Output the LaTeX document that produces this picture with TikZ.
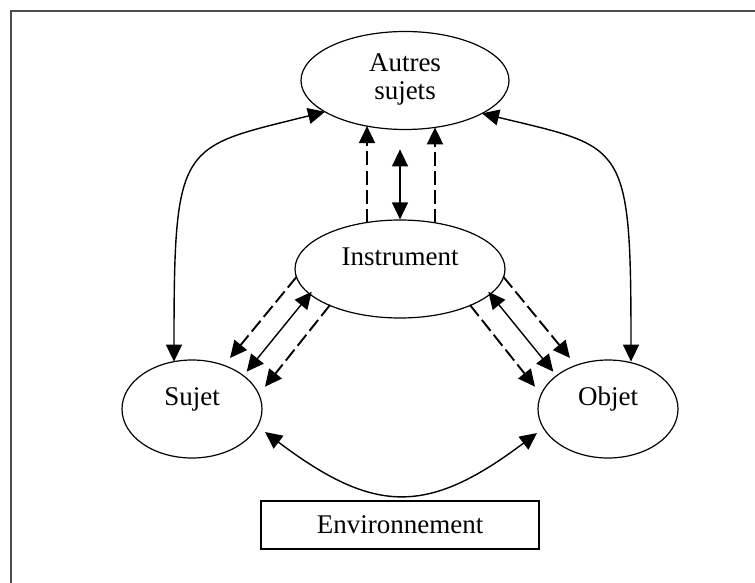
\documentclass[tikz,border=0pt]{standalone}
\usepackage{fontspec}
\setmainfont{Liberation Serif}
\usetikzlibrary{arrows.meta,shapes.geometric,calc}
\begin{document}
\begin{tikzpicture}[x=0.5pt,y=-0.5pt,
  every node/.style={font=\fontsize{13.5}{14}\selectfont},
  ell/.style={draw,ellipse,inner sep=0pt,line width=0.6pt},
  uptext/.style={text height=9pt,text depth=13pt},
  boxnode/.style={draw,line width=0.6pt,inner sep=0pt},
  frameline/.style={draw=gray!60!black,line width=0.8pt},
  conn/.style={line width=0.7pt},
  dashconn/.style={line width=0.95pt,dash pattern=on 7pt off 2.5pt},
  tip/.style={-{Triangle[length=8.5pt,width=8pt]}},
  dtip/.style={{Triangle[length=8.5pt,width=8pt]}-{Triangle[length=8.5pt,width=8pt]}}
]
\useasboundingbox (0,0) rectangle (755,583);
\draw[frameline] (11,583) -- (11,11) -- (755,11);

\node[ell,minimum width=104pt,minimum height=49pt,align=center,text depth=4pt] (as) at (405,80.5) {Autres\\sujets};
\node[ell,uptext,minimum width=105pt,minimum height=49pt] (inst) at (400,269) {Instrument};
\node[ell,uptext,minimum width=70pt,minimum height=49pt] (suj) at (192,409) {Sujet};
\node[ell,uptext,minimum width=70pt,minimum height=49pt] (obj) at (608,409) {Objet};
\node[boxnode,minimum width=139pt,minimum height=24pt] (env) at (400,525) {Environnement};

% Instrument -> Autres sujets
\draw[dashconn,tip] ($(inst)+(-33,-46.5)$) -- ($(as)+(-38,45.6)$);
\draw[dashconn,tip] ($(inst)+(35,-46.2)$) -- ($(as)+(30,46.9)$);
\draw[conn,dtip] (inst.north) -- ++(0,-70);

% Instrument -> Sujet
\draw[dashconn,tip] ($(inst)+(-103.3,7.7)$) -- ($(suj)+(38,-51)$);
\draw[conn,dtip] ($(inst)+(-88.3,22.7)$) -- ($(suj)+(54.7,-37.3)$);
\draw[dashconn,tip] ($(inst)+(-70,36)$) -- ($(suj)+(73,-22.3)$);

% Instrument -> Objet
\draw[dashconn,tip] ($(inst)+(103.3,7.7)$) -- ($(obj)+(-38,-51)$);
\draw[conn,dtip] ($(inst)+(88.3,22.7)$) -- ($(obj)+(-54.7,-37.3)$);
\draw[dashconn,tip] ($(inst)+(70,36)$) -- ($(obj)+(-73,-22.3)$);

% Big curves
\draw[conn,dtip] ($(suj)+(-18,-47.4)$) .. controls (174,140) and (180,148) .. ($(as)+(-80,31.3)$);
\draw[conn,dtip] ($(obj)+(23,-47.4)$) .. controls (631,140) and (625,148) .. ($(as)+(77,32.9)$);
\draw[conn,dtip] ($(suj)+(73,23)$) .. controls (375,515) and (428,515) .. ($(obj)+(-71,24)$);
\end{tikzpicture}
\end{document}
